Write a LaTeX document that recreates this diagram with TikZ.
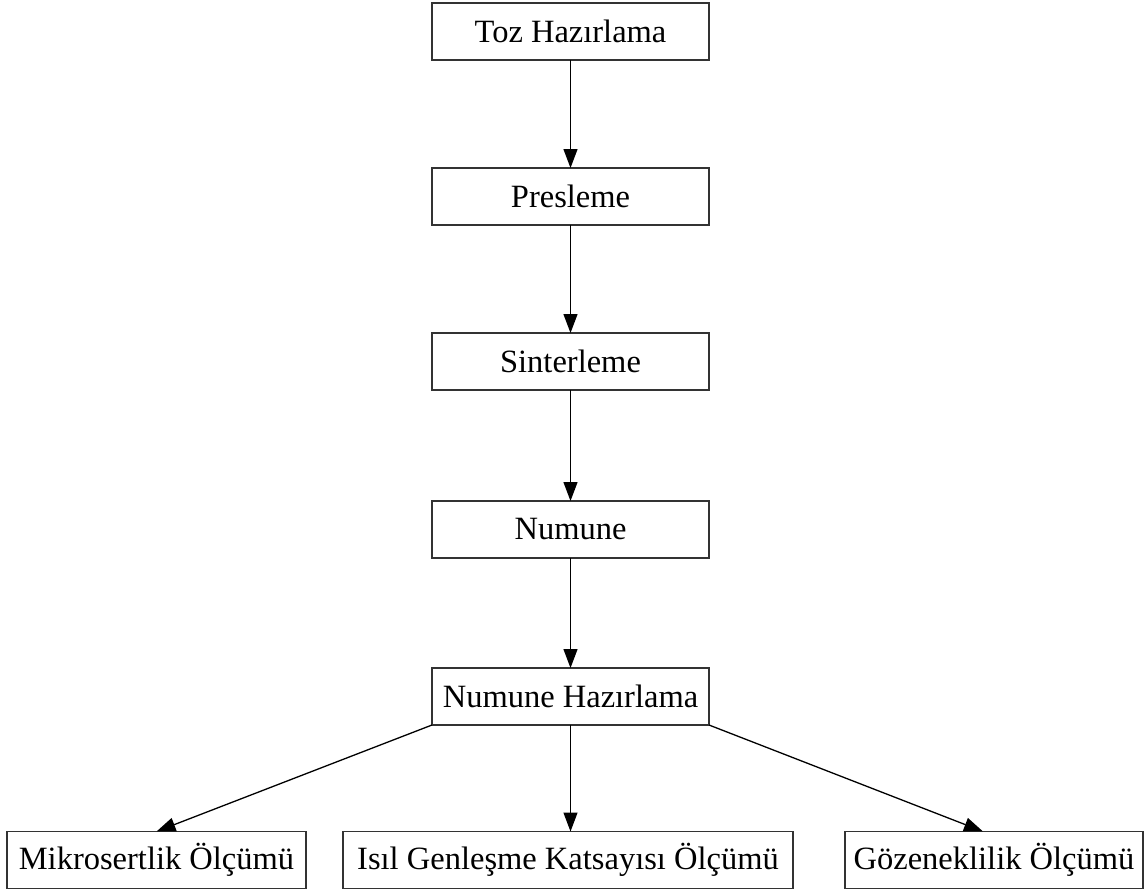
\documentclass[tikz,border=0pt]{standalone}
\usepackage{fontspec}
\setmainfont{Liberation Serif}
\usetikzlibrary{positioning,arrows.meta}

\begin{document}
\begin{tikzpicture}[x=1pt, y=1pt]
\tikzset{kutu/.style={draw=black!80, line width=1.3pt, rectangle, minimum height=57pt, inner sep=0pt, outer sep=0pt, font=\fontsize{32.5}{38}\selectfont}}
\tikzset{ok/.style={line width=1.3pt, -{Triangle[length=19pt, width=14pt]}}}
\useasboundingbox (0, 0) rectangle (1146, -891);
\node[kutu, minimum width=277pt] (K1) at (570.5, -31.5) {Toz Hazırlama};
\node[kutu, minimum width=277pt, below=108pt of K1] (K2) {Presleme};
\node[kutu, minimum width=277pt, below=108pt of K2] (K3) {Sinterleme};
\node[kutu, minimum width=277pt, below=111pt of K3] (K4) {Numune};
\node[kutu, minimum width=277pt, below=110pt of K4] (K5) {Numune Hazırlama};
\node[kutu, minimum width=450pt] (M2) at (568, -860) {Isıl Genleşme Katsayısı Ölçümü};
\node[kutu, minimum width=299pt, left=37pt of M2] (M1) {Mikrosertlik Ölçümü};
\node[kutu, minimum width=298pt, right=52pt of M2] (M3) {Gözeneklilik Ölçümü};
\draw[ok] (K1) -- (K2);
\draw[ok] (K2) -- (K3);
\draw[ok] (K3) -- (K4);
\draw[ok] (K4) -- (K5);
\draw[ok] (K5.south west) -- (M1.north);
\draw[ok] (K5.south) -- (K5.south |- M2.north);
\draw[ok] (K5.south east) -- ([xshift=-11pt]M3.north);
\end{tikzpicture}
\end{document}
